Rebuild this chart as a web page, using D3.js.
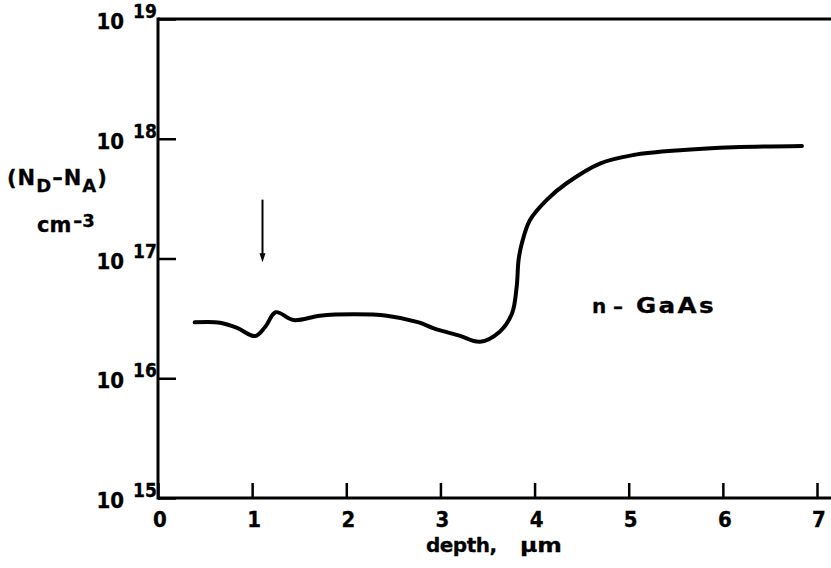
<!DOCTYPE html>
<html>
<head>
<meta charset="utf-8">
<script src="https://cdn.jsdelivr.net/npm/d3@7"></script>
<style>
  html, body { margin: 0; padding: 0; background: #fff; }
  text { font-family: "DejaVu Sans Condensed", "DejaVu Sans", "Liberation Sans", Arial, sans-serif; font-weight: bold; fill: #000; stroke: #000; stroke-width: 0.3px; }
  text.wide { font-family: "DejaVu Sans", "Liberation Sans", Arial, sans-serif; }
</style>
</head>
<body>
<svg id="chart" width="831" height="568"></svg>
<script>
// ---- data ----
const depth = [0.39, 0.66, 0.84, 1.03, 1.14, 1.25, 1.44, 1.72, 2.08, 2.43, 2.77, 2.93, 3.2, 3.42, 3.63, 3.76, 3.81, 3.83, 3.865, 3.95, 4.13, 4.34, 4.70, 5.05, 5.58, 6.11, 6.84];
const conc  = [2.93e16, 2.91e16, 2.64e16, 2.25e16, 2.69e16, 3.56e16, 3.06e16, 3.33e16, 3.42e16, 3.33e16, 2.93e16, 2.61e16, 2.27e16, 2.02e16, 2.45e16, 3.47e16, 5.82e16, 9.7e16, 1.34e17, 2.09e17, 3.09e17, 4.25e17, 6.24e17, 7.31e17, 8.05e17, 8.49e17, 8.71e17];
const xTicks = [0, 1, 2, 3, 4, 5, 6, 7];
const yTickExps = [15, 16, 17, 18, 19];
const arrowDepth = 1.11;
const arrowConc = [3.1e17, 9.3e16];
const labelParts = ["n", "\u2013", "GaAs"];
const labelPos = [4.61, 3.5e16];

const svg = d3.select("#chart");
const x = d3.scaleLinear().domain([0, 7]).range([158, 817]);
const y = d3.scaleLog().domain([1e15, 1e19]).range([498, 19]);

// place a text at (x0, y0) and stretch it horizontally to a target width
function fitText(sel, x0, y0, targetW) {
  sel.attr("x", 0).attr("y", 0);
  const w = sel.node().getComputedTextLength();
  const s = w > 0 ? targetW / w : 1;
  sel.attr("transform", `translate(${x0},${y0}) scale(${s},1)`);
  return sel;
}

// frame lines
const frame = svg.append("g").attr("stroke", "#000").attr("stroke-width", 3).attr("fill", "none");
frame.append("line").attr("x1", x(0)).attr("x2", x(0)).attr("y1", y(1e19) - 1.5).attr("y2", y(1e15) + 1.5);
frame.append("line").attr("x1", x(0)).attr("x2", 831).attr("y1", y(1e15)).attr("y2", y(1e15));
frame.append("line").attr("x1", x(0)).attr("x2", 831).attr("y1", y(1e19)).attr("y2", y(1e19));

// x axis ticks (inward)
const xAxis = svg.append("g").attr("transform", `translate(0,${y(1e15)})`)
  .call(d3.axisBottom(x).tickValues(xTicks).tickSizeInner(-15).tickSizeOuter(0).tickFormat(d3.format("d")));
xAxis.select(".domain").remove();
xAxis.selectAll(".tick line").attr("stroke", "#000").attr("stroke-width", 2.5);
xAxis.selectAll(".tick text").attr("y", 29).attr("dy", null).attr("x", 1.5).style("font-size", "22px")
  .attr("font-family", null).attr("fill", "#000");

// y axis ticks (inward)
const yAxis = svg.append("g").attr("transform", `translate(${x(0)},0)`)
  .call(d3.axisLeft(y).tickValues(yTickExps.map(e => Math.pow(10, e))).tickSizeInner(-18).tickSizeOuter(0).tickFormat(""));
yAxis.select(".domain").remove();
yAxis.selectAll(".tick line").attr("stroke", "#000").attr("stroke-width", 2.5);

// y tick labels 10^n
const yl = svg.append("g");
yTickExps.forEach(e => {
  const ty = y(Math.pow(10, e));
  yl.append("text").attr("x", 124).attr("y", ty + 10).attr("text-anchor", "end")
    .style("font-size", "22px").text("10");
  yl.append("text").attr("x", 133).attr("y", ty - 1).style("font-size", "19px").text(String(e));
});

// y axis title
const t1 = svg.append("text").attr("class", "wide").attr("x", 7).attr("y", 185).style("font-size", "21px").style("letter-spacing", "1px");
t1.append("tspan").text("(N");
t1.append("tspan").attr("dy", 7).style("font-size", "18px").text("D");
t1.append("tspan").attr("dy", -7).text("\u2013N");
t1.append("tspan").attr("dy", 7).style("font-size", "18px").text("A");
t1.append("tspan").attr("dy", -7).text(")");

const t2 = svg.append("text").attr("class", "wide").attr("x", 37).attr("y", 232).style("font-size", "21px");
t2.append("tspan").text("cm");
t2.append("tspan").attr("dx", 2).attr("dy", -5).style("font-size", "18px").text("\u20133");

// x axis title
svg.append("text").attr("class", "wide").attr("x", 426).attr("y", 552).style("font-size", "20px")
  .attr("textLength", 71).attr("lengthAdjust", "spacing").text("depth,");
fitText(svg.append("text").attr("class", "wide").style("font-size", "20px").text("\u00b5m"), 520, 552, 42);

// data curve
const line = d3.line().x(d => x(d[0])).y(d => y(d[1])).curve(d3.curveCatmullRom.alpha(0.5));
svg.append("path").datum(depth.map((d, i) => [d, conc[i]]))
  .attr("d", line).attr("fill", "none").attr("stroke", "#000").attr("stroke-width", 4)
  .attr("stroke-linejoin", "round").attr("stroke-linecap", "round");

// arrow
const ax = x(arrowDepth);
const ay0 = y(arrowConc[0]), ay1 = y(arrowConc[1]);
svg.append("line").attr("x1", ax).attr("x2", ax).attr("y1", ay0).attr("y2", ay1 - 6)
  .attr("stroke", "#000").attr("stroke-width", 2);
svg.append("path").attr("d", `M${ax - 3},${ay1 - 9} L${ax + 3},${ay1 - 9} L${ax},${ay1} Z`).attr("fill", "#000");

// label
const lx = x(labelPos[0]), ly = y(labelPos[1]);
svg.append("text").attr("class", "wide").attr("x", lx).attr("y", ly).style("font-size", "20px").text(labelParts[0]);
svg.append("text").attr("class", "wide").attr("x", lx + 21).attr("y", ly).style("font-size", "20px").text(labelParts[1]);
fitText(svg.append("text").attr("class", "wide").style("font-size", "21px").style("letter-spacing", "2px").text(labelParts[2]),
  lx + 44, ly, 80);
</script>
</body>
</html>
